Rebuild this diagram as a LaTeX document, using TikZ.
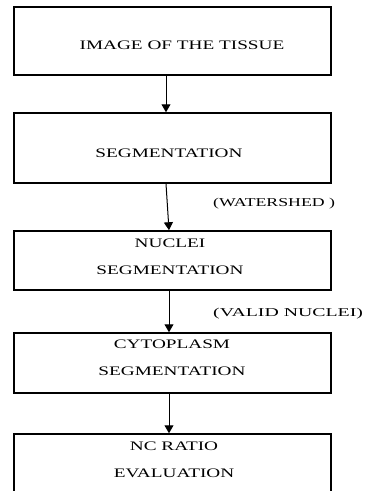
\documentclass[tikz,border=0pt]{standalone}
\usepackage{fontspec}
\setmainfont{Liberation Serif}[FakeStretch=1.48]
\newfontfamily\widefont{Liberation Serif}[FakeStretch=1.65]
\usetikzlibrary{arrows.meta}
\tikzset{
  box/.style={draw=black, line width=1.5pt, minimum width=317pt, inner sep=0pt},
  txt/.style={align=center, inner sep=0pt, font=\fontsize{13}{27}\selectfont},
  lbl/.style={anchor=west, inner sep=0pt, font=\fontsize{12}{14}\selectfont},
  arr/.style={line width=1pt, -{Triangle[width=9pt,length=8pt]}}
}
\begin{document}
\begin{tikzpicture}[x=1pt, y=-1pt]
\useasboundingbox (0,0) rectangle (367,491);
\fill[white] (0,0) rectangle (367,491);
\clip (0,0) rectangle (367,491);
\node[box, minimum height=68pt] (b1) at (172.5,41) {};
\node[box, minimum height=70pt] (b2) at (172.5,148) {};
\node[box, minimum height=59pt] (b3) at (172.5,260.5) {};
\node[box, minimum height=60pt] (b4) at (172.5,363) {};
\node[box, minimum height=80pt] (b5) at (172.5,474) {};
\node[txt] (t1) at (182,45) {IMAGE OF THE TISSUE};
\node[txt] (t2) at (169,153) {SEGMENTATION};
\node[txt] (t3) at (170,256.5) {NUCLEI\\SEGMENTATION};
\node[txt] (t4) at (172,358) {CYTOPLASM\\SEGMENTATION};
\node[txt] (t5) at (174,459.5) {NC RATIO\\EVALUATION};
\node[lbl] (l1) at (213,204) {(WATERSHED )};
\node[lbl] (l2) at (213,314) {\widefont (VALID NUCLEI)};
\draw[arr] ([xshift=-6.5pt]b1.south) -- ([xshift=-6.5pt]b2.north);
\draw[arr] ([xshift=-6.5pt]b2.south) -- ([xshift=-3.5pt]b3.north);
\draw[arr] ([xshift=-3.5pt]b3.south) -- ([xshift=-3.5pt]b4.north);
\draw[arr] ([xshift=-3.5pt]b4.south) -- ([xshift=-3.5pt]b5.north);
\end{tikzpicture}
\end{document}
